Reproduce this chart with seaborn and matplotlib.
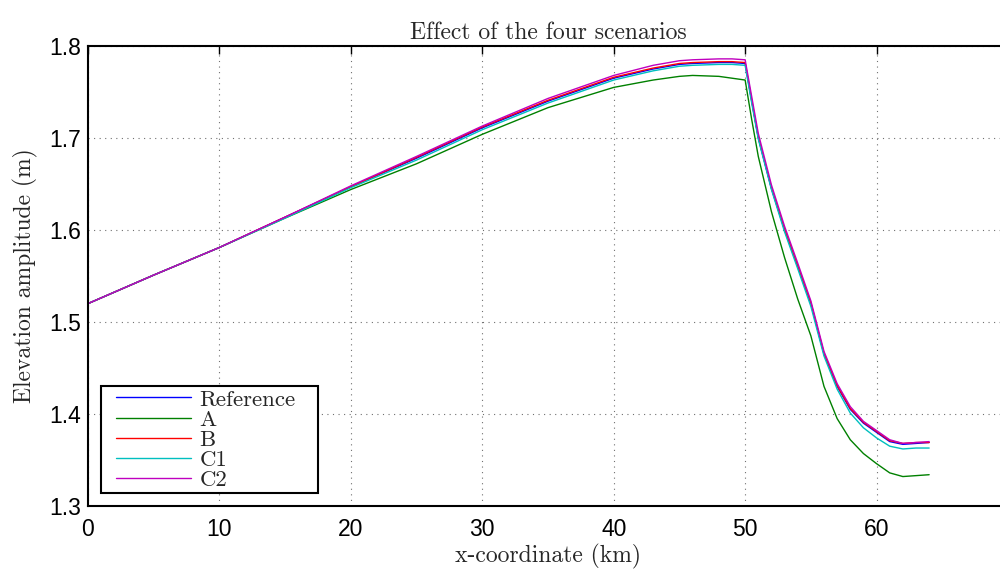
import numpy as np
import pandas as pd
import matplotlib
matplotlib.use("Agg")
import matplotlib.pyplot as plt
import seaborn as sns
from matplotlib.legend_handler import HandlerLine2D
from matplotlib.lines import Line2D

# Along-channel position (km)
x_km = [0, 5, 7, 10, 15, 20, 25, 30, 35, 40, 43, 45, 46, 48, 49, 50,
        50.5, 51, 52, 53, 54, 55, 56, 57, 58, 59, 60, 61, 62, 63, 64]

# Elevation amplitude (m) for each scenario
ref = [1.520, 1.551, 1.563, 1.581, 1.614, 1.647, 1.678, 1.711, 1.740, 1.765, 1.775, 1.780, 1.781, 1.782, 1.782, 1.781,
       1.740, 1.700, 1.645, 1.600, 1.560, 1.520, 1.465, 1.430, 1.405, 1.390, 1.380, 1.370, 1.367, 1.368, 1.369]
sc_a = [1.520, 1.551, 1.563, 1.581, 1.613, 1.644, 1.672, 1.704, 1.733, 1.755, 1.763, 1.767, 1.768, 1.767, 1.765, 1.763,
        1.720, 1.680, 1.620, 1.570, 1.525, 1.485, 1.430, 1.395, 1.372, 1.357, 1.346, 1.336, 1.332, 1.333, 1.334]
sc_b = [1.520, 1.551, 1.563, 1.581, 1.614, 1.647, 1.679, 1.712, 1.741, 1.766, 1.776, 1.781, 1.782, 1.783, 1.783, 1.782,
        1.741, 1.701, 1.646, 1.601, 1.561, 1.521, 1.466, 1.431, 1.406, 1.391, 1.381, 1.371, 1.368, 1.369, 1.369]
sc_c1 = [1.520, 1.551, 1.563, 1.581, 1.613, 1.646, 1.676, 1.709, 1.738, 1.763, 1.773, 1.778, 1.779, 1.780, 1.780, 1.779,
         1.738, 1.699, 1.644, 1.598, 1.558, 1.517, 1.463, 1.427, 1.401, 1.385, 1.374, 1.365, 1.362, 1.363, 1.363]
sc_c2 = [1.520, 1.551, 1.563, 1.581, 1.614, 1.648, 1.680, 1.713, 1.743, 1.768, 1.779, 1.784, 1.785, 1.786, 1.786, 1.785,
         1.745, 1.705, 1.649, 1.604, 1.564, 1.523, 1.468, 1.433, 1.408, 1.392, 1.382, 1.372, 1.368, 1.369, 1.370]

scenarios = ["Reference", "A", "B", "C1", "C2"]
series = [ref, sc_a, sc_b, sc_c1, sc_c2]
colors = ["#0000ff", "#008000", "#ff0000", "#00bfbf", "#bf00bf"]

x_ticks = [0, 10, 20, 30, 40, 50, 60]
y_ticks = [1.3, 1.4, 1.5, 1.6, 1.7, 1.8]

df = pd.DataFrame({
    "x": np.tile(x_km, len(scenarios)),
    "elev": np.concatenate(series),
    "scenario": np.repeat(scenarios, len(x_km)),
})

sns.set_style("white")
plt.rcParams["font.family"] = ["Liberation Sans", "DejaVu Sans"]

fig = plt.figure(figsize=(10, 5.7), dpi=100)
ax = fig.add_axes([0.088, 0.1123, 0.92, 0.807])

sns.lineplot(data=df, x="x", y="elev", hue="scenario", hue_order=scenarios,
             palette=colors, linewidth=1.0, ax=ax, legend=True, sort=False)

ax.set_xlim(0, 70)
ax.set_ylim(1.3, 1.8)
ax.set_xticks(x_ticks)
ax.set_yticks(y_ticks)
ax.set_xticklabels([str(t) for t in x_ticks], fontsize=16.5)
ax.set_yticklabels([f"{t:.1f}" for t in y_ticks], fontsize=16.5)

ax.grid(True, color="#707070", linestyle=(0, (1, 4)), linewidth=0.8)
ax.tick_params(direction="in", length=6, width=1.0, top=True, right=True,
               colors="black")
ax.tick_params(axis="x", pad=9)
ax.tick_params(axis="y", pad=5)
for s in ax.spines.values():
    s.set_color("black")
    s.set_linewidth(1.5)

serif = {"family": "cmr10", "size": 17}
ax.set_title("Effect of the four scenarios", fontdict=serif, pad=5)
ax.set_xlabel("x-coordinate (km)", fontdict=serif, labelpad=2)
ax.set_ylabel("Elevation amplitude (m)", fontdict=serif, labelpad=8)

# Legend: lines indented inside a wide, tightly stacked box
handles, labels = ax.get_legend_handles_labels()
leg = ax.legend(handles, labels, loc="lower left",
                bbox_to_anchor=(0.014, 0.028, 0.236, 0.2), mode="expand",
                borderaxespad=0, frameon=True, fancybox=False, handlelength=3.8,
                handletextpad=0.35, labelspacing=0.0, borderpad=0.15,
                handler_map={Line2D: HandlerLine2D(xpad=0.5)},
                prop={"family": "cmr10", "size": 16.5})
leg.get_frame().set_edgecolor("black")
leg.get_frame().set_linewidth(1.5)
leg.get_frame().set_alpha(1)

fig.savefig("out.png", dpi=100)
